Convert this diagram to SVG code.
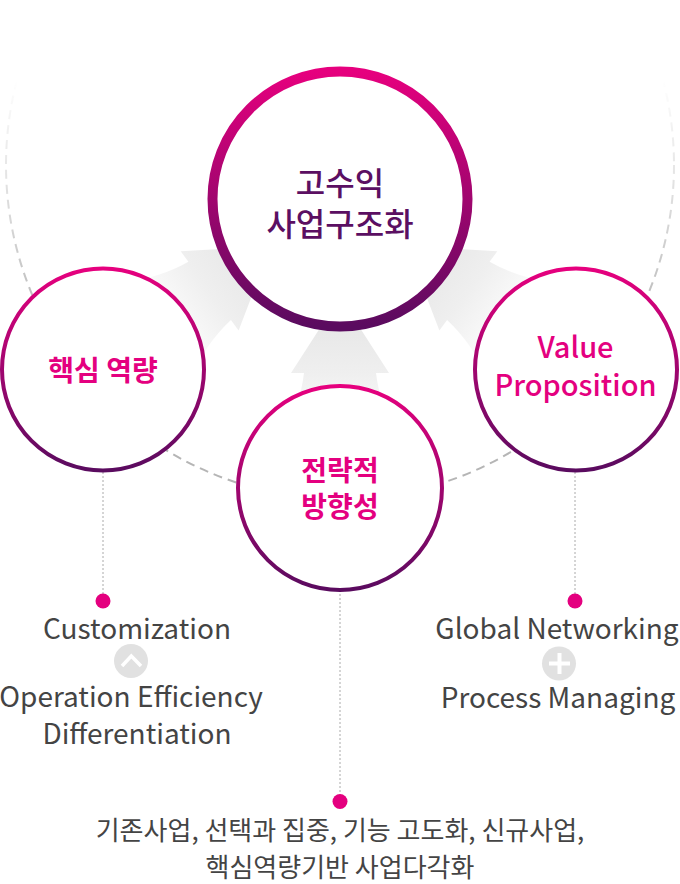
<svg xmlns="http://www.w3.org/2000/svg" width="680" height="884" viewBox="0 0 680 884">
<style>
.t{font-family:"Noto Sans CJK KR","Noto Sans",sans-serif;text-anchor:middle}
.center{font-size:32px;fill:#5b0f62;font-weight:500}
.lbl{font-size:28px;fill:#e4007f;font-weight:700}
.en{font-size:29px;fill:#e4007f;font-weight:500}
.desc{font-size:28px;fill:#444}
.kdesc{font-size:26px;fill:#444}
.ring{fill:#fff;stroke:url(#ringG);stroke-width:4}
.dot{fill:#e4007f}
.vline{stroke:#aaa;stroke-width:1;stroke-dasharray:2 2;fill:none}
.icon{fill:#e1e1e1}
.arrow{fill:url(#arrowG)}
</style>
<defs>
<linearGradient id="ringG" x1="0" y1="0" x2="0" y2="1">
<stop offset="0" stop-color="#e6007e"/>
<stop offset="1" stop-color="#5a0b5f"/>
</linearGradient>
<linearGradient id="arrowG" x1="0" y1="0" x2="0" y2="1">
<stop offset="0" stop-color="#e3e3e3"/>
<stop offset="0.55" stop-color="#efefef"/>
<stop offset="1" stop-color="#ffffff"/>
</linearGradient>
<linearGradient id="arcG" gradientUnits="userSpaceOnUse" x1="0" y1="80" x2="0" y2="330">
<stop offset="0" stop-color="#bbb" stop-opacity="0"/>
<stop offset="1" stop-color="#b5b5b5" stop-opacity="1"/>
</linearGradient>
<path id="arw" d="M0,0 L49,76 L36,76 Q40,110 58,140 L-58,140 Q-40,110 -36,76 L-49,76 Z"/>
</defs>

<g id="connectors">
<circle cx="340" cy="165" r="334" fill="none" stroke="url(#arcG)" stroke-width="2" stroke-dasharray="9 6"/>
<use href="#arw" class="arrow" transform="translate(340,297)"/>
<use href="#arw" class="arrow" transform="translate(271,246) rotate(53.8)"/>
<use href="#arw" class="arrow" transform="translate(407,246) rotate(-53.8)"/>
<line class="vline" x1="103" y1="472" x2="103" y2="600"/>
<line class="vline" x1="575" y1="472" x2="575" y2="600"/>
<line class="vline" x1="340" y1="590" x2="340" y2="800"/>
</g>

<g id="node-center">
<circle cx="340" cy="199" r="127.5" fill="#fff" stroke="url(#ringG)" stroke-width="10"/>
<text class="t center" x="340" y="195">고수익</text>
<text class="t center" x="340" y="236">사업구조화</text>
</g>

<g id="node-core">
<circle class="ring" cx="103" cy="369.5" r="101"/>
<text class="t lbl" x="103" y="381">핵심 역량</text>
</g>

<g id="node-value">
<circle class="ring" cx="576" cy="369.5" r="101"/>
<text class="t en" x="575.5" y="358">Value</text>
<text class="t en" x="575.5" y="396">Proposition</text>
</g>

<g id="node-strategy">
<circle class="ring" cx="340" cy="488" r="102"/>
<text class="t lbl" x="340" y="481">전략적</text>
<text class="t lbl" x="340" y="517">방향성</text>
</g>

<g id="detail-core">
<circle class="dot" cx="103" cy="601" r="7.5"/>
<text class="t desc" x="137" y="639">Customization</text>
<circle class="icon" cx="131" cy="661" r="17"/>
<polyline points="122,666 131.3,656 141,666" fill="none" stroke="#fff" stroke-width="3.5"/>
<text class="t desc" x="131" y="707">Operation Efficiency</text>
<text class="t desc" x="137" y="744">Differentiation</text>
</g>

<g id="detail-value">
<circle class="dot" cx="575" cy="601" r="7.5"/>
<text class="t desc" x="557" y="639">Global Networking</text>
<circle class="icon" cx="559" cy="663.5" r="17"/>
<path d="M549,663.5 H570 M559.5,653 V674" stroke="#fff" stroke-width="4" fill="none"/>
<text class="t desc" x="558" y="708">Process Managing</text>
</g>

<g id="detail-strategy">
<circle class="dot" cx="340" cy="801.5" r="7.5"/>
<text class="t kdesc" x="340" y="840">기존사업, 선택과 집중, 기능 고도화, 신규사업,</text>
<text class="t kdesc" x="340" y="877">핵심역량기반 사업다각화</text>
</g>
</svg>
